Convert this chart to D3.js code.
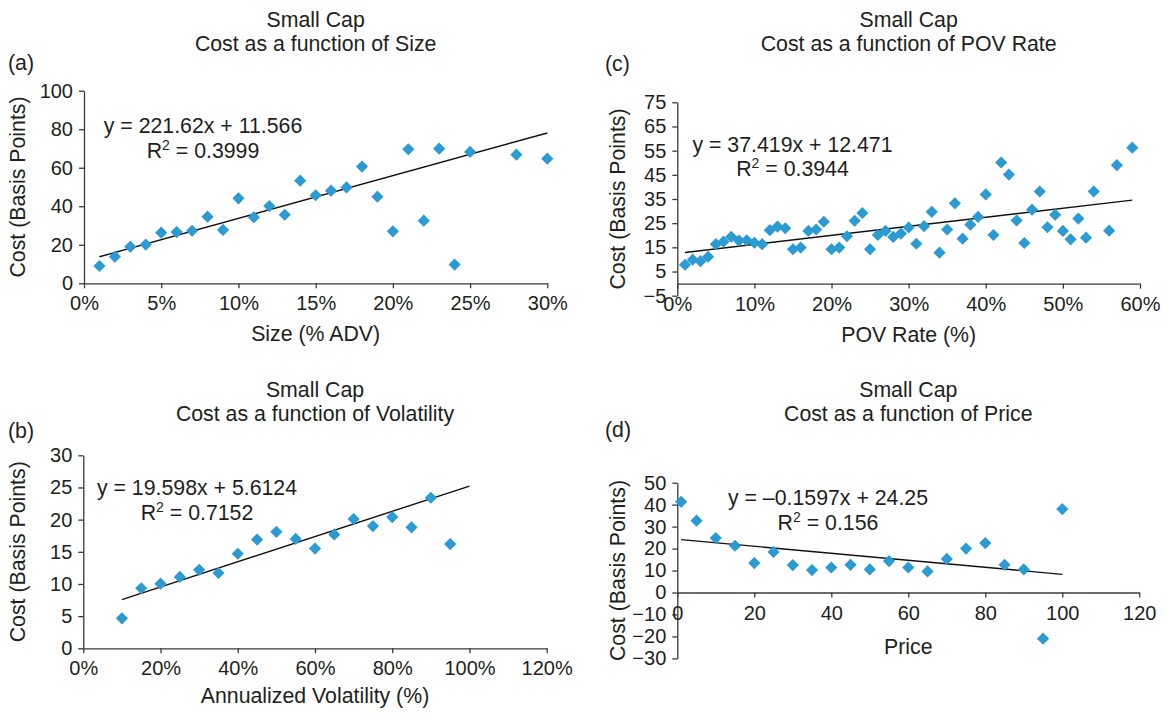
<!DOCTYPE html>
<html><head><meta charset="utf-8">
<script src="https://cdn.jsdelivr.net/npm/d3@7"></script>
<style>
body{margin:0;background:#fff;}
text{font-family:"Liberation Sans",Arial,sans-serif;fill:#231f20;}
</style></head>
<body><svg id="c" width="1166" height="714"></svg>
<script>
// ---------- DATA ----------
// (a) Size
const sizeX = [0.01,0.02,0.03,0.04,0.05,0.06,0.07,0.08,0.09,0.10,0.11,0.12,0.13,0.14,0.15,0.16,0.17,0.18,0.19,0.20,0.21,0.22,0.23,0.24,0.25,0.28,0.30];
const sizeCost = [9.0,13.8,19.0,20.1,26.3,26.6,27.3,34.6,27.7,44.1,34.3,40.1,35.6,53.3,45.7,48.1,49.8,60.6,45.0,27.0,69.6,32.5,69.9,9.7,68.2,66.8,64.7];
const sizeFit = {slope:221.62, intercept:11.566, from:0.01, to:0.30};
const sizeEq = "y = 221.62x + 11.566", sizeR2 = "0.3999";
const sizeYTicks = [0,20,40,60,80,100];
const sizeXTicks = [0,0.05,0.10,0.15,0.20,0.25,0.30];

// (b) Volatility
const volX = [0.10,0.15,0.20,0.25,0.30,0.35,0.40,0.45,0.50,0.55,0.60,0.65,0.70,0.75,0.80,0.85,0.90,0.95];
const volCost = [4.66,9.33,10.05,11.1,12.2,11.7,14.7,16.9,18.1,17.0,15.5,17.7,20.1,19.0,20.4,18.8,23.4,16.2];
const volFit = {slope:19.598, intercept:5.6124, from:0.10, to:1.00};
const volEq = "y = 19.598x + 5.6124", volR2 = "0.7152";
const volYTicks = [0,5,10,15,20,25,30];
const volXTicks = [0,0.2,0.4,0.6,0.8,1.0,1.2];

// (c) POV Rate
const povX = [0.01,0.02,0.03,0.04,0.05,0.06,0.07,0.08,0.09,0.10,0.11,0.12,0.13,0.14,0.15,0.16,0.17,0.18,0.19,0.20,0.21,0.22,0.23,0.24,0.25,0.26,0.27,0.28,0.29,0.30,0.31,0.32,0.33,0.34,0.35,0.36,0.37,0.38,0.39,0.40,0.41,0.42,0.43,0.44,0.45,0.46,0.47,0.48,0.49,0.50,0.51,0.52,0.53,0.54,0.56,0.57,0.59];
const povCost = [7.8,9.9,9.3,11.1,16.3,17.4,19.4,17.8,17.9,16.9,16.3,22.1,23.6,22.9,14.2,14.9,21.8,22.4,25.6,14.2,14.9,19.6,26.0,29.2,14.2,20.1,21.8,19.3,20.7,23.2,16.5,23.75,29.7,12.8,22.4,33.2,18.6,24.4,27.6,36.9,20.1,50.1,45.1,26.1,16.8,30.6,38.1,23.3,28.5,21.8,18.3,26.9,19.0,38.1,21.9,49.0,56.25];
const povFit = {slope:37.419, intercept:12.471, from:0.01, to:0.59};
const povEq = "y = 37.419x + 12.471", povR2 = "0.3944";
const povYTicks = [-5,5,15,25,35,45,55,65,75];
const povXTicks = [0,0.1,0.2,0.3,0.4,0.5,0.6];

// (d) Price
const priceX = [1,5,10,15,20,25,30,35,40,45,50,55,60,65,70,75,80,85,90,95,100];
const priceCost = [41.3,32.7,24.8,21.3,13.4,18.5,12.5,10.2,11.4,12.6,10.5,14.3,11.4,9.6,15.3,20.0,22.5,12.6,10.5,-21.0,38.0];
const priceFit = {slope:-0.1597, intercept:24.25, from:1, to:100};
const priceEq = "y = \u20130.1597x + 24.25", priceR2 = "0.156";
const priceYTicks = [-30,-20,-10,0,10,20,30,40,50];
const priceXTicks = [0,20,40,60,80,100,120];

const titleTop = "Small Cap";
const yTitle = "Cost (Basis Points)";

// ---------- DRAW ----------
const svg = d3.select("#c");
const FS = 21.3;   // titles, labels, equations
const TFS = 20;    // tick labels
const markColor = "#2b9bd2";
const axisColor = "#3a3a3a";
const diamond = d3.symbol(d3.symbolSquare, 74);

function panel(o){
  const x = d3.scaleLinear().domain(o.xDomain).range([o.left,o.right]);
  const y = d3.scaleLinear().domain(o.yDomain).range([o.bottom,o.top]);
  const g = svg.append("g");
  g.append("text").attr("x",o.letterX).attr("y",o.letterY).attr("font-size",FS).text(o.letter);
  const cx = (o.left+o.right)/2;
  g.append("text").attr("x",cx).attr("y",o.titleY).attr("text-anchor","middle").attr("font-size",FS).text(titleTop);
  g.append("text").attr("x",cx).attr("y",o.titleY+24).attr("text-anchor","middle").attr("font-size",FS).text(o.title);
  const ya = g.append("g").attr("transform",`translate(${o.left},0)`)
    .call(d3.axisLeft(y).tickValues(o.yTicks).tickSize(5).tickPadding(6).tickSizeOuter(0).tickFormat(d3.format("d")));
  const xa = g.append("g").attr("transform",`translate(0,${y(0)})`)
    .call(d3.axisBottom(x).tickValues(o.xTicks).tickSize(5).tickPadding(8).tickSizeOuter(0).tickFormat(o.xFmt));
  [ya,xa].forEach(a=>{
    a.selectAll("path,line").attr("stroke",axisColor).attr("stroke-width",1.3);
    a.selectAll("text").attr("font-size",TFS).attr("font-family","Liberation Sans, Arial, sans-serif").attr("fill","#231f20");
  });
  g.append("text").attr("x",cx).attr("y",o.xTitleY).attr("text-anchor","middle").attr("font-size",FS).text(o.xTitle);
  g.append("text").attr("transform",`translate(${o.yTitleX},${(o.top+o.bottom)/2}) rotate(-90)`)
    .attr("text-anchor","middle").attr("font-size",FS).text(yTitle);
  const f = o.fit;
  g.append("line").attr("x1",x(f.from)).attr("y1",y(f.slope*f.from+f.intercept))
    .attr("x2",x(f.to)).attr("y2",y(f.slope*f.to+f.intercept))
    .attr("stroke","#111").attr("stroke-width",1.4);
  g.selectAll("path.pt").data(o.xs.map((v,i)=>[v,o.ys[i]])).enter().append("path")
    .attr("class","pt").attr("d",diamond)
    .attr("transform",d=>`translate(${x(d[0])},${y(d[1])}) rotate(45)`)
    .attr("fill",markColor);
  g.append("text").attr("x",o.eqX).attr("y",o.eqY).attr("text-anchor","middle").attr("font-size",FS).text(o.eq);
  const r = g.append("text").attr("x",o.eqX).attr("y",o.eqY+24.5).attr("text-anchor","middle").attr("font-size",FS);
  r.append("tspan").text("R");
  r.append("tspan").attr("font-size",14).attr("dy",-8).text("2");
  r.append("tspan").attr("dy",8).text(" = "+o.r2);
}

const pct = d3.format(".0%");
panel({letter:"(a)",letterX:8,letterY:70,title:"Cost as a function of Size",titleY:26.7,
  left:84,right:547.3,top:90.7,bottom:283.3,xDomain:[0,0.30],yDomain:[0,100],
  xTicks:sizeXTicks,yTicks:sizeYTicks,xFmt:pct,xTitle:"Size (% ADV)",xTitleY:340.7,yTitleX:25,
  fit:sizeFit,xs:sizeX,ys:sizeCost,eq:sizeEq,r2:sizeR2,eqX:203,eqY:133});
panel({letter:"(b)",letterX:8,letterY:438,title:"Cost as a function of Volatility",titleY:396.7,
  left:83.3,right:546.7,top:455.3,bottom:648.3,xDomain:[0,1.2],yDomain:[0,30],
  xTicks:volXTicks,yTicks:volYTicks,xFmt:pct,xTitle:"Annualized Volatility (%)",xTitleY:702.7,yTitleX:25,
  fit:volFit,xs:volX,ys:volCost,eq:volEq,r2:volR2,eqX:197,eqY:495});
panel({letter:"(c)",letterX:605,letterY:71,title:"Cost as a function of POV Rate",titleY:26.7,
  left:677.3,right:1140,top:102.3,bottom:295.7,xDomain:[0,0.6],yDomain:[-5,75],
  xTicks:povXTicks,yTicks:povYTicks,xFmt:pct,xTitle:"POV Rate (%)",xTitleY:341.7,yTitleX:625,
  fit:povFit,xs:povX,ys:povCost,eq:povEq,r2:povR2,eqX:792.5,eqY:151.7});
panel({letter:"(d)",letterX:605,letterY:437,title:"Cost as a function of Price",titleY:396.7,
  left:677.3,right:1139.3,top:482.7,bottom:658.4,xDomain:[0,120],yDomain:[-30,50],
  xTicks:priceXTicks,yTicks:priceYTicks,xFmt:d3.format("d"),xTitle:"Price",xTitleY:654.3,yTitleX:625,
  fit:priceFit,xs:priceX,ys:priceCost,eq:priceEq,r2:priceR2,eqX:828,eqY:505});
</script></body></html>
